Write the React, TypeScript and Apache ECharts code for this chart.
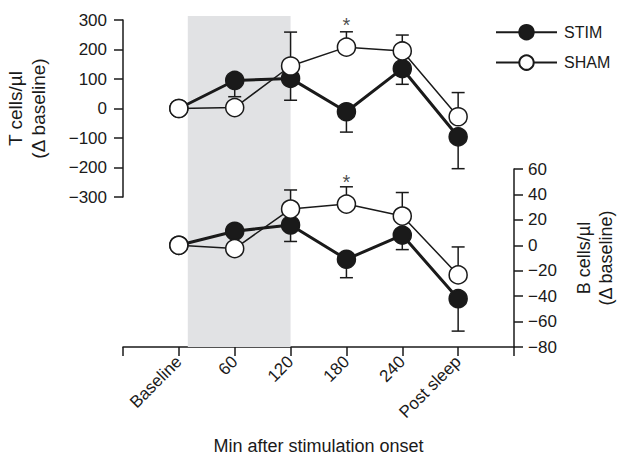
import React, { useEffect, useRef } from "react";
import * as echarts from "echarts";

const categories = ["Baseline", "60", "120", "180", "240", "Post sleep"];
// T cells (left axis)
const tStim = [0, 95, 102, -11, 135, -96];
const tSham = [0, 3, 144, 208, 195, -28];
const tStimErrEnd: (number | null)[] = [null, 40, 28, -80, 82, -204];
const tShamErrEnd: (number | null)[] = [null, null, 259, 260, 249, 54];
// B cells (right axis)
const bStim = [0, 11, 16, -11, 8, -42];
const bSham = [0, -2.6, 28.5, 32.4, 23, -23.3];
const bStimErrEnd: (number | null)[] = [null, null, 3, -25.5, -3.4, -67.5];
const bShamErrEnd: (number | null)[] = [null, null, 43.5, 46, 41.5, -1.3];
// significance marks
const tStars = [[3, 282]];
const bStars = [[3, 50]];
// stimulation period (x positions in category units)
const shade = [0.16, 2];

const FONT = "'Liberation Sans', Arial, Helvetica, sans-serif";
const INK = "#1a1a1a";

const fmtNum = (v: number) => (v < 0 ? "\u2212" + Math.abs(v) : String(v));

const pts = (arr: number[]) => arr.map((v, i) => [i, v]);
const errs = (mean: number[], ends: (number | null)[]) =>
  ends
    .map((e, i) => (e === null ? null : [i, mean[i], e]))
    .filter((d) => d !== null) as number[][];

const errRender = (params: any, api: any) => {
  const x = api.value(0);
  const p0 = api.coord([x, api.value(1)]);
  const p1 = api.coord([x, api.value(2)]);
  const style = { stroke: INK, lineWidth: 1.5, fill: "none" };
  return {
    type: "group",
    children: [
      { type: "line", shape: { x1: p0[0], y1: p0[1], x2: p1[0], y2: p1[1] }, style },
      { type: "line", shape: { x1: p1[0] - 6.5, y1: p1[1], x2: p1[0] + 6.5, y2: p1[1] }, style },
    ],
  };
};

export default function App() {
  const ref = useRef<HTMLDivElement>(null);
  useEffect(() => {
    if (!ref.current) return;
    const chart = echarts.init(ref.current, undefined, { renderer: "svg" });
    const axisCommon = {
      axisLine: { show: true, onZero: false, lineStyle: { color: INK, width: 1.5 } },
      axisTick: { show: true, length: 9, lineStyle: { color: INK, width: 1.5 } },
      splitLine: { show: false },
    };
    const stimLine = (xi: number, yi: number, data: number[]) => ({
      type: "line",
      name: "STIM",
      xAxisIndex: xi,
      yAxisIndex: yi,
      data: pts(data),
      symbol: "circle",
      symbolSize: 18,
      lineStyle: { color: INK, width: 3 },
      itemStyle: { color: INK, borderColor: INK, borderWidth: 1.5 },
      z: 3,
    });
    const shamLine = (xi: number, yi: number, data: number[]) => ({
      type: "line",
      name: "SHAM",
      xAxisIndex: xi,
      yAxisIndex: yi,
      data: pts(data),
      symbol: "circle",
      symbolSize: 18,
      lineStyle: { color: INK, width: 1.5 },
      itemStyle: { color: "#ffffff", borderColor: INK, borderWidth: 1.5 },
      z: 4,
    });
    const errSeries = (xi: number, yi: number, data: number[][]) => ({
      type: "custom",
      xAxisIndex: xi,
      yAxisIndex: yi,
      data,
      encode: { x: 0, y: [1, 2] },
      renderItem: errRender,
      silent: true,
      z: 2,
    });
    const starSeries = (xi: number, yi: number, data: number[][]) => ({
      type: "scatter",
      xAxisIndex: xi,
      yAxisIndex: yi,
      data,
      symbolSize: 1,
      itemStyle: { color: "rgba(0,0,0,0)" },
      label: {
        show: true,
        position: "inside",
        formatter: "*",
        fontSize: 20,
        fontFamily: FONT,
        color: INK,
      },
      silent: true,
      z: 5,
    });

    chart.setOption({
      animation: false,
      backgroundColor: "#ffffff",
      textStyle: { fontFamily: FONT, color: INK },
      legend: {
        data: ["STIM", "SHAM"],
        orient: "vertical",
        left: 495,
        top: 24,
        padding: 0,
        itemWidth: 61,
        itemHeight: 18,
        itemGap: 14,
        textStyle: { fontSize: 16, fontFamily: FONT, color: INK, padding: [0, 0, 0, 2] },
        selectedMode: false,
      },
      grid: [
        { left: 123, top: 20, width: 391, height: 177, outerBoundsMode: "none", containLabel: false },
        { left: 123, top: 169, width: 391, height: 178, outerBoundsMode: "none", containLabel: false },
        { left: 123, top: 16, width: 391, height: 331, outerBoundsMode: "none", containLabel: false },
      ],
      xAxis: [
        { gridIndex: 0, type: "value", min: -1, max: 6, show: false },
        {
          gridIndex: 1,
          type: "value",
          min: -1,
          max: 6,
          interval: 1,
          position: "bottom",
          ...axisCommon,
          axisLabel: {
            formatter: (v: number) => categories[Math.round(v)] ?? "",
            rotate: 45,
            fontSize: 17,
            margin: 12,
            color: INK,
            fontFamily: FONT,
          },
          name: "Min after stimulation onset",
          nameLocation: "middle",
          nameGap: 90,
          nameTextStyle: { fontSize: 18, color: INK, fontFamily: FONT },
        },
        { gridIndex: 2, type: "value", min: -1, max: 6, show: false },
      ],
      yAxis: [
        {
          gridIndex: 0,
          type: "value",
          min: -300,
          max: 300,
          interval: 100,
          position: "left",
          ...axisCommon,
          axisLabel: { formatter: fmtNum, fontSize: 17, margin: 16, color: INK, fontFamily: FONT },
          name: "T cells/\u00b5l\n(\u0394 baseline)",
          nameLocation: "middle",
          nameGap: 73,
          nameTextStyle: { fontSize: 19, lineHeight: 23, color: INK, fontFamily: FONT },
        },
        {
          gridIndex: 1,
          type: "value",
          min: -80,
          max: 60,
          interval: 20,
          position: "right",
          ...axisCommon,
          axisLabel: { formatter: fmtNum, fontSize: 17, margin: 14, color: INK, fontFamily: FONT },
          name: "B cells/\u00b5l\n(\u0394 baseline)",
          nameLocation: "middle",
          nameGap: 59,
          nameTextStyle: { fontSize: 18, lineHeight: 22, color: INK, fontFamily: FONT },
        },
        { gridIndex: 2, type: "value", min: 0, max: 1, show: false },
      ],
      series: [
        {
          type: "line",
          xAxisIndex: 2,
          yAxisIndex: 2,
          data: [],
          silent: true,
          z: 0,
          markArea: {
            silent: true,
            itemStyle: { color: "#e1e2e4" },
            data: [[{ xAxis: shade[0], yAxis: 0 }, { xAxis: shade[1], yAxis: 1 }]],
          },
        },
        errSeries(0, 0, errs(tStim, tStimErrEnd)),
        errSeries(0, 0, errs(tSham, tShamErrEnd)),
        errSeries(1, 1, errs(bStim, bStimErrEnd)),
        errSeries(1, 1, errs(bSham, bShamErrEnd)),
        stimLine(0, 0, tStim),
        shamLine(0, 0, tSham),
        stimLine(1, 1, bStim),
        shamLine(1, 1, bSham),
        starSeries(0, 0, tStars),
        starSeries(1, 1, bStars),
      ],
    });
    return () => chart.dispose();
  }, []);
  return (
    <div
      ref={ref}
      style={{ position: "fixed", left: 0, top: 0, width: 618, height: 456 }}
    />
  );
}
